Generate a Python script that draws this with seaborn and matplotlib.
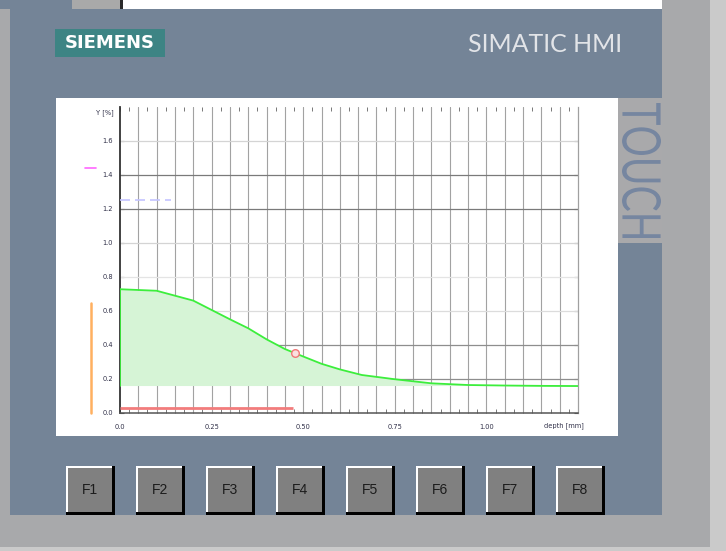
import matplotlib
matplotlib.use("Agg")
import matplotlib.pyplot as plt
import numpy as np
import pandas as pd
import seaborn as sns
from matplotlib.patches import Rectangle, PathPatch
from matplotlib.textpath import TextPath
from matplotlib.font_manager import FontProperties
from matplotlib.transforms import Affine2D

# values
depth = [0.0, 0.1, 0.2, 0.25, 0.3, 0.35, 0.4, 0.45, 0.5, 0.55, 0.6, 0.66,
         0.75, 0.85, 0.95, 1.05, 1.15, 1.25]
strain = [0.727, 0.718, 0.66, 0.605, 0.55, 0.497, 0.432, 0.375, 0.331, 0.288,
          0.255, 0.222, 0.197, 0.173, 0.163, 0.16, 0.158, 0.157]
baseline = 0.16

marker_depth = [0.478]
marker_strain = [0.35]

red_x = [0.0, 0.473]
red_y = [0.029, 0.029]
purple_x = [0.0, 0.14]
purple_y = [1.25, 1.25]
pink_x = [-0.095, -0.066]
pink_y = [1.44, 1.44]
orange_x = [-0.08, -0.08]
orange_y = [0.0, 0.648]

x_ticks = [0.0, 0.25, 0.5, 0.75, 1.0]
x_labels = ["0.0", "0.25", "0.50", "0.75", "1.00"]
y_ticks = [0.0, 0.2, 0.4, 0.6, 0.8, 1.0, 1.2, 1.4, 1.6]
y_labels = ["0.0", "0.2", "0.4", "0.6", "0.8", "1.0", "1.2", "1.4", "1.6"]
buttons = ["F1", "F2", "F3", "F4", "F5", "F6", "F7", "F8"]

sns.set_style("white")
plt.rcParams["font.family"] = ["DejaVu Sans"]

W, H = 726, 551
fig = plt.figure(figsize=(W / 100, H / 100), dpi=100)
fig.patch.set_facecolor("#cacaca")

# panel drawing in pixel coordinates
bg = fig.add_axes([0, 0, 1, 1])
bg.set_xlim(0, W)
bg.set_ylim(H, 0)
bg.axis("off")

panel = "#748497"
def rect(x, y, w, h, c, z=1):
    bg.add_patch(Rectangle((x, y), w, h, color=c, lw=0, zorder=z))

rect(0, 0, 710, 547, "#a8a9ab")
rect(0, 0, 726, 9, "white")
rect(0, 0, 72, 9, panel)
rect(72, 0, 49, 9, "#a9a9a9")
rect(120, 0, 3, 9, "#2a2a2a")
rect(662, 0, 64, 9, "#a8a9ab")
rect(710, 0, 16, 9, "#cacaca")
rect(10, 9, 652, 506, panel)
rect(56, 98, 562, 338, "white", 2)
rect(618, 98, 44, 145, "#a9a9ab", 2)

# logo and title
rect(55, 29, 110, 28, "#3d8484", 2)
bg.text(110, 43.5, "SIEMENS", color="white", fontsize=13, fontweight="bold",
        ha="center", va="center", zorder=3)
bg.text(468, 52, "SIMATIC HMI", color="#e2e4e8", fontsize=18,
        family=["Lato", "DejaVu Sans"], ha="left", va="baseline", zorder=3)

# rotated, condensed TOUCH
tp = TextPath((0, 0), "TOUCH", size=1,
              prop=FontProperties(family=["Lato", "DejaVu Sans"]))
ext = tp.get_extents()
sx = (238 - 103) / ext.width
sy = (661 - 622) / ext.height
tr = Affine2D.from_values(0, sx, sy, 0, 622 - sy * ext.y0, 103 - sx * ext.x0)
bg.add_patch(PathPatch(tp, transform=tr + bg.transData, facecolor="#7686a0",
                       edgecolor="none", zorder=3))

# function keys
for i, lab in enumerate(buttons):
    x0 = 66 + 70 * i
    y0 = 466
    rect(x0, y0, 49, 49, "black", 3)
    rect(x0, y0, 46, 46, "white", 3)
    rect(x0 + 2, y0 + 2, 44, 44, "#808080", 3)
    bg.text(x0 + 24, y0 + 24, lab, fontsize=10, color="#1c1c1c",
            family=["Liberation Sans", "DejaVu Sans"], ha="center",
            va="center", zorder=4)

# trend chart
ax = fig.add_axes([120 / W, (H - 412.7) / H, 458 / W, 305.7 / H])
ax.set_facecolor("none")
ax.set_xlim(0, 1.25)
ax.set_ylim(0, 1.8)

for xv in np.arange(0.05, 1.21, 0.05):
    ax.axvline(xv, color="#a2a2a2", lw=0.8, zorder=1)
grid_col = {0.2: "#8e8e8e", 0.4: "#8e8e8e", 0.6: "#dcdcdc", 0.8: "#e4e4e4",
            1.0: "#d4d4d4", 1.2: "#7a7a7a", 1.4: "#7a7a7a", 1.6: "#d4d4d4"}
for yv, c in grid_col.items():
    ax.axhline(yv, color=c, lw=0.9, zorder=1)

df = pd.DataFrame({"depth": depth, "strain": strain})
s = np.array(strain)
ax.fill_between(depth, strain, baseline, where=s >= baseline - 0.01,
                color="#d6f4d6", lw=0, zorder=2)
sns.lineplot(data=df, x="depth", y="strain", ax=ax, color="#3cee3c",
             linewidth=1.3, zorder=3)
ax.plot([0, 0], [baseline, strain[0]], color="#3cee3c", lw=1.3, zorder=3)
sns.scatterplot(x=marker_depth, y=marker_strain, ax=ax, s=30,
                facecolor="#fbe0e0", edgecolor="#f07878", linewidth=1, zorder=4)

ax.plot(red_x, red_y, color="#f27c7c", lw=2, zorder=3, solid_capstyle="butt")
ax.plot(purple_x, purple_y, color="#c4c4ff", lw=1.2, dashes=(6, 3), zorder=3)
ax.plot(pink_x, pink_y, color="#ff66ff", lw=1.2, clip_on=False)
ax.plot(orange_x, orange_y, color="#ffb060", lw=1.8, clip_on=False)

ax.spines["top"].set_visible(False)
ax.spines["left"].set_color("#333333")
ax.spines["left"].set_linewidth(1.3)
ax.spines["bottom"].set_color("#555555")
ax.spines["bottom"].set_linewidth(1.1)
ax.spines["right"].set_color("#a0a0a0")
ax.spines["right"].set_linewidth(0.9)

ax.set_xticks(x_ticks, x_labels)
ax.set_yticks(y_ticks, y_labels)
ax.set_xticks(np.arange(0, 1.25, 0.025), minor=True)
ax.tick_params(axis="x", which="both", direction="in", top=True, bottom=True,
               length=3, width=0.7, color="#777777", labelsize=4.8,
               labelcolor="#303048", pad=8)
ax.tick_params(axis="y", which="both", direction="in", left=True, right=True,
               length=3, width=0.8, color="#555555", labelsize=4.8,
               labelcolor="#303048", pad=5)
ax.set_xlabel("")
ax.set_ylabel("")
ax.text(-0.018, 1.765, "Y [%]", fontsize=4.8, color="#303048", ha="right",
        va="center")
ax.text(1.212, -0.078, "depth [mm]", fontsize=4.8, color="#303048",
        ha="center", va="center")

fig.savefig("out.png", dpi=100, facecolor=fig.get_facecolor())
